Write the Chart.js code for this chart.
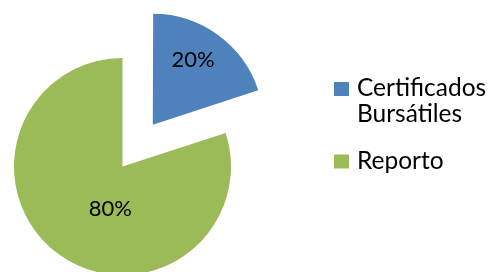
<!DOCTYPE html>
<html>
<head>
<meta charset="utf-8">
<script src="https://cdn.jsdelivr.net/npm/chart.js@4.4.1/dist/chart.umd.min.js"></script>
<style>
  html, body { margin: 0; padding: 0; background: #fff; }
  #c { display: block; }
</style>
</head>
<body>
<canvas id="c" width="490" height="272"></canvas>
<script>
// data
var labels = ['Certificados Bursátiles', 'Reporto'];
var legendLines = [['Certificados', 'Bursátiles'], ['Reporto']];
var values = [20, 80];
var pctLabels = ['20%', '80%'];
var colors = ['#4F81BD', '#9BBB59'];

// where the % text sits inside each slice (fraction of slice angle, fraction of radius)
var labelAngleFrac = [0.44, 0.43];
var labelRadiusFrac = [0.68, 0.41];

var FONT = 'Lato, "Open Sans", sans-serif';

function arcShift(arc) {
    // same translation Chart.js applies when it draws an offset arc
    var off = (arc.options.offset || 0) / 4;
    var circ = arc.endAngle - arc.startAngle;
    var fix = 1 - Math.sin(Math.min(Math.PI, circ || 0));
    return off * (1 + fix);
}

var sliceLabels = {
    id: 'sliceLabels',
    afterDatasetsDraw: function(chart) {
        var ctx = chart.ctx;
        var arcs = chart.getDatasetMeta(0).data;
        ctx.save();
        ctx.font = '22px ' + FONT;
        ctx.fillStyle = '#000';
        ctx.textAlign = 'center';
        ctx.textBaseline = 'middle';
        arcs.forEach(function(arc, i) {
            var mid = (arc.startAngle + arc.endAngle) / 2;
            var s = arcShift(arc);
            var cx = arc.x + Math.cos(mid) * s;
            var cy = arc.y + Math.sin(mid) * s;
            var a = arc.startAngle + (arc.endAngle - arc.startAngle) * labelAngleFrac[i];
            var r = arc.outerRadius * labelRadiusFrac[i];
            ctx.fillText(pctLabels[i], cx + Math.cos(a) * r, cy + Math.sin(a) * r);
        });
        ctx.restore();
    }
};

var sideLegend = {
    id: 'sideLegend',
    afterDraw: function(chart) {
        var ctx = chart.ctx;
        var boxX = 334, textX = 357;
        var rowTop = [82, 154.5];
        var lineH = 26;
        ctx.save();
        ctx.font = '24.5px ' + FONT;
        ctx.textBaseline = 'alphabetic';
        ctx.textAlign = 'left';
        legendLines.forEach(function(lines, i) {
            ctx.fillStyle = colors[i];
            ctx.fillRect(boxX, rowTop[i], 15, 14);
            ctx.fillStyle = '#000';
            lines.forEach(function(t, j) {
                ctx.fillText(t, textX, rowTop[i] + 14 + j * lineH);
            });
        });
        ctx.restore();
    }
};

new Chart(document.getElementById('c'), {
    type: 'pie',
    data: {
        labels: labels,
        datasets: [{
            data: values,
            backgroundColor: colors,
            borderWidth: 0,
            offset: [206, 0],
            hoverOffset: 0,
            clip: false
        }]
    },
    options: {
        responsive: false,
        animation: false,
        radius: 108.5,
        layout: { padding: { left: 0, right: 245, top: 61, bottom: 0 } },
        plugins: {
            legend: { display: false },
            tooltip: { enabled: false }
        }
    },
    plugins: [sliceLabels, sideLegend]
});
</script>
</body>
</html>
